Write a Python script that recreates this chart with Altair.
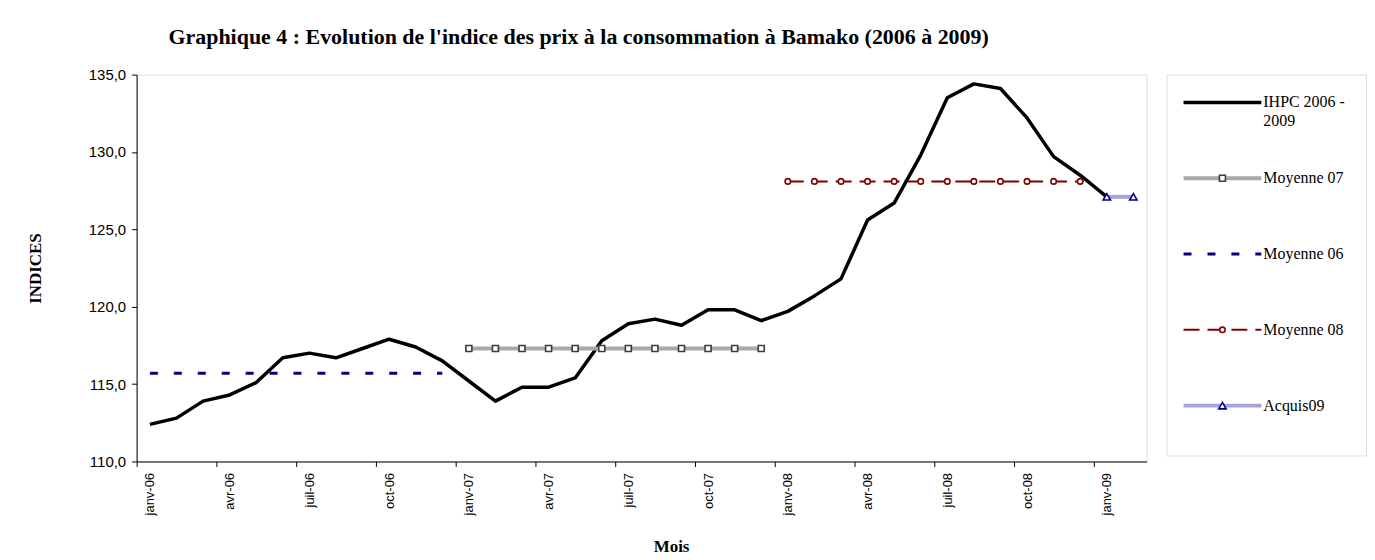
import altair as alt
import pandas as pd

# ---------------- data ----------------
months = ["janv-06", "févr-06", "mars-06", "avr-06", "mai-06", "juin-06",
          "juil-06", "août-06", "sept-06", "oct-06", "nov-06", "déc-06",
          "janv-07", "févr-07", "mars-07", "avr-07", "mai-07", "juin-07",
          "juil-07", "août-07", "sept-07", "oct-07", "nov-07", "déc-07",
          "janv-08", "févr-08", "mars-08", "avr-08", "mai-08", "juin-08",
          "juil-08", "août-08", "sept-08", "oct-08", "nov-08", "déc-08",
          "janv-09", "févr-09"]

ihpc = [112.4, 112.8, 113.9, 114.3, 115.1, 116.7, 117.0, 116.7, 117.3, 117.9, 117.4, 116.5,
        115.2, 113.9, 114.8, 114.8, 115.4, 117.8, 118.9, 119.2, 118.8, 119.8, 119.8, 119.1,
        119.7, 120.7, 121.8, 125.6, 126.7, 129.8, 133.5, 134.4, 134.1, 132.2, 129.7, 128.5,
        127.1]
moyenne_06 = [115.7, 115.7, 115.7, 115.7, 115.7, 115.7, 115.7, 115.7, 115.7, 115.7, 115.7, 115.7]
moyenne_07 = [117.3, 117.3, 117.3, 117.3, 117.3, 117.3, 117.3, 117.3, 117.3, 117.3, 117.3, 117.3]
moyenne_08 = [128.1, 128.1, 128.1, 128.1, 128.1, 128.1, 128.1, 128.1, 128.1, 128.1, 128.1, 128.1]
acquis_09 = [127.1, 127.1]

series_names = ["IHPC 2006 - 2009", "Moyenne 07", "Moyenne 06", "Moyenne 08", "Acquis09"]
legend_labels = ["IHPC 2006 -\n2009", "Moyenne 07", "Moyenne 06", "Moyenne 08", "Acquis09"]
y_ticks = [110, 115, 120, 125, 130, 135]

title_text = "Graphique 4 :  Evolution de l'indice des prix à la consommation à Bamako (2006 à 2009)"

rows = []
def add(name, mlist, vals):
    for m, v in zip(mlist, vals):
        rows.append({"mois": m, "valeur": v, "serie": name})

add("IHPC 2006 - 2009", months[0:37], ihpc)
add("Moyenne 07", months[12:24], moyenne_07)
add("Moyenne 06", months[0:12], moyenne_06)
add("Moyenne 08", months[24:36], moyenne_08)
add("Acquis09", months[36:38], acquis_09)
df = pd.DataFrame(rows)

# legend sample table
leg_rows = []
for i, (n, lab) in enumerate(zip(series_names, legend_labels)):
    for pos in (0.0, 1.0):
        leg_rows.append({"serie": n, "rang": i, "pos": pos, "etiquette": lab, "kind": "line"})
    leg_rows.append({"serie": n, "rang": i, "pos": 0.5, "etiquette": lab, "kind": "mark"})
leg_df = pd.DataFrame(leg_rows)

# ---------------- styles ----------------
styles = {
    "IHPC 2006 - 2009": dict(color="#000000", width=3.5, dash=None, shape=None, mstroke=None, size=0),
    "Moyenne 07": dict(color="#a9a9a9", width=4, dash=None, shape="square", mstroke="#3c3c3c", size=36),
    "Moyenne 06": dict(color="#000080", width=3, dash=[8, 16], shape=None, mstroke=None, size=0),
    "Moyenne 08": dict(color="#800000", width=2, dash=[16, 8], shape="circle", mstroke="#800000", size=30),
    "Acquis09": dict(color="#a4a4dc", width=4, dash=None, shape="triangle-up", mstroke="#000080", size=55),
}

SERIF = "Liberation Serif"
SANS = "Liberation Sans"
W, H = 1013, 388
STEP = W / len(months)

x_enc = alt.X(
    "mois:N", sort=months,
    scale=alt.Scale(type="point", domain=months, padding=0.5),
    axis=alt.Axis(
        values=months[::3], labelAngle=-90, labelAlign="right", labelBaseline="middle",
        tickOffset=-STEP / 2, labelOffset=STEP / 2, tickSize=5, tickColor="#000",
        domainColor="#000", labelFont=SANS, labelFontSize=13, labelColor="#000",
        labelPadding=6, title="Mois", titleFont=SERIF, titleFontSize=17,
        titleFontWeight="bold", titleColor="#000", titlePadding=24, titleX=536,
        grid=False, labelOverlap=False,
    ),
)
y_enc = alt.Y(
    "valeur:Q",
    scale=alt.Scale(domain=[110, 135], nice=False, zero=False),
    axis=alt.Axis(
        values=y_ticks, labelExpr="replace(format(datum.value, '.1f'), '.', ',')",
        tickSize=5, tickColor="#000", domainColor="#000", labelFont=SANS,
        labelFontSize=15, labelColor="#000", labelPadding=6, grid=False,
        title="INDICES", titleFont=SERIF, titleFontSize=17, titleFontWeight="bold",
        titleColor="#000", titlePadding=44,
    ),
)

layers = []
for name in series_names:
    st = styles[name]
    base = alt.Chart(df).transform_filter(alt.datum.serie == name)
    lkw = dict(color=st["color"], strokeWidth=st["width"], strokeJoin="round")
    if st["dash"]:
        lkw["strokeDash"] = st["dash"]
    layers.append(base.mark_line(**lkw).encode(x=x_enc, y=y_enc))
    if st["shape"]:
        layers.append(base.mark_point(shape=st["shape"], size=st["size"], filled=True,
                                      fill="white", stroke=st["mstroke"], strokeWidth=1.6,
                                      opacity=1).encode(x=x_enc, y=y_enc))

main = alt.layer(*layers).properties(width=W, height=H)

# ---------------- legend panel ----------------
LW, LH = 200, 382
lx = alt.X("pos:Q", scale=alt.Scale(domain=[-0.218, 2.346], nice=False, zero=False), axis=None)
ly = alt.Y("rang:Q", scale=alt.Scale(domain=[-0.368, 4.658], nice=False, zero=False, reverse=True), axis=None)
leg_layers = []
for name in series_names:
    st = styles[name]
    base = alt.Chart(leg_df).transform_filter(alt.datum.serie == name)
    lkw = dict(color=st["color"], strokeWidth=st["width"])
    if st["dash"]:
        lkw["strokeDash"] = st["dash"]
    leg_layers.append(base.transform_filter(alt.datum.kind == "line").mark_line(**lkw).encode(x=lx, y=ly))
    if st["shape"]:
        leg_layers.append(base.transform_filter(alt.datum.kind == "mark").mark_point(
            shape=st["shape"], size=st["size"], filled=True, fill="white",
            stroke=st["mstroke"], strokeWidth=1.6, opacity=1).encode(x=lx, y=ly))
leg_text = alt.Chart(leg_df).transform_filter(alt.datum.pos == 1.0).mark_text(
    align="left", baseline="alphabetic", dx=2, dy=5, font=SERIF, fontSize=16,
    lineBreak="\n", lineHeight=19, color="#000"
).encode(x=lx, y=ly, text="etiquette:N")
leg_layers.append(leg_text)
legend = alt.layer(*leg_layers).properties(width=LW, height=LH)

chart = alt.hconcat(main, legend, spacing=18).properties(
    title=alt.TitleParams(title_text, font=SERIF, fontSize=22, fontWeight="bold",
                          color="#000", anchor="start", dx=143, offset=18),
    padding={"left": 17, "top": 17, "right": 0, "bottom": 0},
).configure_view(stroke="#000000", strokeWidth=1).configure(background="white")

chart.save("out.html", embed_options={"renderer": "svg", "actions": False})
